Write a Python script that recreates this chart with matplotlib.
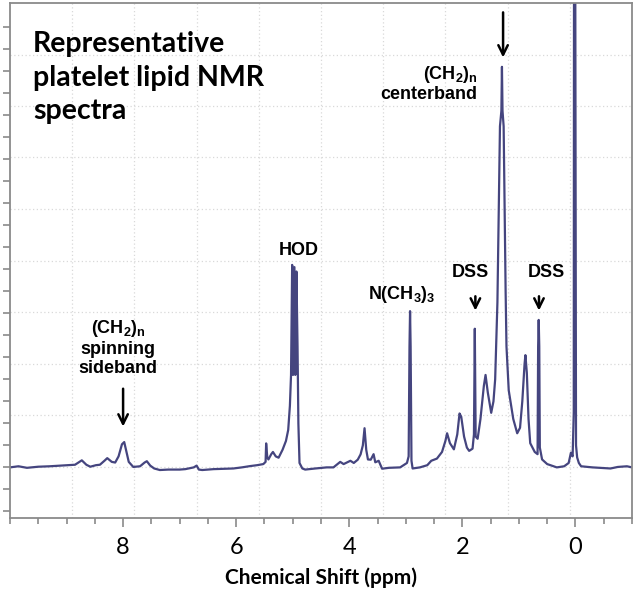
import numpy as np
import matplotlib
matplotlib.use('Agg')
import matplotlib.pyplot as plt
from matplotlib.ticker import MultipleLocator

plt.rcParams['mathtext.fontset'] = 'custom'
plt.rcParams['mathtext.rm'] = 'Liberation Sans:bold'
plt.rcParams['mathtext.bf'] = 'Liberation Sans:bold'
plt.rcParams['mathtext.default'] = 'bf'

# traced spectrum (ppm, intensity in tick units)
ppm = [10.0, 9.85, 9.7, 9.5, 9.3, 9.1, 9.0, 8.85, 8.73, 8.65, 8.58, 8.48, 8.41,
       8.33, 8.28, 8.2, 8.14, 8.08, 8.02, 7.98, 7.94, 7.9, 7.82, 7.7, 7.62, 7.58,
       7.52, 7.45, 7.35, 7.2, 7.0, 6.9, 6.75, 6.7, 6.66, 6.6, 6.4, 6.2, 6.05, 5.9,
       5.75, 5.63, 5.52, 5.48, 5.47, 5.45, 5.43, 5.38, 5.35, 5.3, 5.25, 5.18, 5.12,
       5.08, 5.05, 5.03, 5.01, 4.995, 4.97, 4.955, 4.935, 4.915, 4.9, 4.88, 4.83,
       4.78, 4.6, 4.4, 4.28, 4.16, 4.1, 3.98, 3.92, 3.85, 3.8, 3.76, 3.73, 3.7,
       3.67, 3.62, 3.57, 3.54, 3.48, 3.42, 3.3, 3.1, 2.98, 2.95, 2.935, 2.925,
       2.915, 2.9, 2.88, 2.75, 2.62, 2.55, 2.45, 2.36, 2.3, 2.27, 2.22, 2.15, 2.09,
       2.05, 2.02, 1.97, 1.92, 1.88, 1.82, 1.795, 1.78, 1.765, 1.73, 1.68, 1.62,
       1.59, 1.55, 1.49, 1.45, 1.42, 1.38, 1.36, 1.335, 1.31, 1.3, 1.29, 1.27,
       1.25, 1.235, 1.22, 1.18, 1.1, 1.03, 0.98, 0.94, 0.9, 0.885, 0.86, 0.83,
       0.8, 0.72, 0.67, 0.66, 0.65, 0.64, 0.63, 0.59, 0.5, 0.33, 0.2, 0.12, 0.08,
       0.05, 0.03, 0.025, 0.005, -0.01, -0.03, -0.06, -0.1, -0.3, -0.5, -0.62,
       -0.75, -0.91, -1.0]
intensity = [0.0, 0.05, -0.02, 0.03, 0.05, 0.08, 0.1, 0.12, 0.32, 0.12, 0.03, 0.1,
             0.12, 0.3, 0.42, 0.25, 0.22, 0.5, 1.05, 1.15, 0.7, 0.25, 0.02, 0.05,
             0.22, 0.28, 0.08, -0.05, -0.12, -0.1, -0.1, -0.08, 0.0, 0.08, -0.1,
             -0.12, -0.08, -0.06, -0.05, 0.0, 0.06, 0.1, 0.15, 0.25, 1.09, 0.45,
             0.36, 0.6, 0.7, 0.5, 0.44, 0.8, 1.2, 1.7, 2.8, 4.2, 9.2, 4.2, 9.1, 4.2,
             8.9, 5.5, 2.0, 0.2, -0.05, -0.1, -0.05, 0.0, 0.0, 0.25, 0.15, 0.3, 0.2,
             0.35, 0.59, 1.0, 1.78, 0.8, 0.36, 0.35, 0.6, 0.23, 0.3, -0.06, -0.02,
             0.0, 0.2, 0.5, 5.5, 7.1, 5.5, 0.3, -0.05, 0.0, 0.1, 0.3, 0.4, 0.7, 1.2,
             1.55, 1.1, 0.82, 1.5, 2.45, 2.3, 1.4, 0.9, 0.75, 0.85, 1.5, 6.3, 1.4,
             1.3, 2.2, 3.7, 4.2, 3.4, 2.48, 3.0, 4.0, 7.5, 11.0, 15.5, 16.2, 18.2,
             16.2, 15.5, 11.0, 8.0, 5.5, 3.5, 2.2, 1.55, 1.8, 3.0, 4.7, 5.1, 4.3,
             2.2, 1.1, 0.7, 0.6, 5.5, 6.7, 5.5, 0.9, 0.36, 0.15, 0.0, 0.05, 0.2,
             0.67, 0.5, 2.5, 25.0, 25.0, 1.0, 0.45, 0.2, 0.05, 0.0, -0.03, -0.05,
             0.02, 0.05, 0.0]

labelled_ticks = [8, 6, 4, 2, 0]

fig = plt.figure(figsize=(6.37, 5.90), dpi=100)
rect = [10 / 637, 1 - 518 / 590, 622 / 637, 515 / 590]

# faint dotted background grid (10 x 10 over the frame)
gax = fig.add_axes(rect, zorder=0)
gax.set_xlim(0, 1)
gax.set_ylim(0, 1)
gax.set_xticks(np.arange(0.1, 1.0, 0.1))
gax.set_yticks(np.arange(0.1, 1.0, 0.1))
gax.grid(True, color='#d9d9d9', lw=0.9, ls=(0, (1, 2)))
gax.tick_params(length=0, labelbottom=False, labelleft=False)
for s in gax.spines.values():
    s.set_visible(False)

ax = fig.add_axes(rect, zorder=1)
ax.patch.set_alpha(0)
ax.plot(ppm, intensity, color='#45457f', lw=1.6, solid_joinstyle='round')

ax.set_xlim(10, -1)
ax.set_ylim(-2.3, 21.1)
ax.set_xticks(labelled_ticks)
ax.xaxis.set_minor_locator(MultipleLocator(0.5))
ax.set_yticks(np.arange(-2, 21))
ax.set_yticklabels([])
for s in ax.spines.values():
    s.set_color('#8a8a8a')
    s.set_linewidth(1.3)
ax.tick_params(axis='x', which='major', direction='out', length=6.5, width=1.2,
               color='#8a8a8a', pad=7, labelsize=17)
ax.tick_params(axis='x', which='minor', direction='out', length=4.5, width=1.2,
               color='#8a8a8a')
ax.tick_params(axis='y', direction='out', length=5, width=1.2, color='#8a8a8a')
for lab in ax.get_xticklabels():
    lab.set_fontfamily('Lato')
ax.set_xlabel('Chemical Shift (ppm)', fontfamily='Lato', fontweight='bold',
              fontsize=15, labelpad=7)

ax.text(0.037, 0.945, 'Representative\nplatelet lipid NMR\nspectra',
        transform=ax.transAxes, ha='left', va='top', fontfamily='Lato',
        fontweight='bold', fontsize=20.5, linespacing=1.35)

lab_kw = dict(fontfamily='Liberation Sans', fontweight='bold', fontsize=13)
arr = dict(arrowstyle='->', lw=1.8, color='black', mutation_scale=17)

ax.text(4.9, 9.86, 'HOD', ha='center', va='center', **lab_kw)
ax.text(3.08, 7.86, r'N(CH$_3$)$_3$', ha='center', va='center', **lab_kw)

ax.text(1.86, 8.86, 'DSS', ha='center', va='center', **lab_kw)
ax.annotate('', xy=(1.77, 7.0), xytext=(1.77, 7.9), arrowprops=arr)
ax.text(0.52, 8.86, 'DSS', ha='center', va='center', **lab_kw)
ax.annotate('', xy=(0.645, 7.0), xytext=(0.645, 7.9), arrowprops=arr)

ax.text(1.73, 17.45, '(CH$_2$)$_n$\ncenterband', ha='right', va='center',
        multialignment='right', linespacing=1.1, **lab_kw)
ax.annotate('', xy=(1.28, 18.5), xytext=(1.28, 20.8), arrowprops=arr)

ax.text(8.09, 5.45, '(CH$_2$)$_n$\nspinning\nsideband', ha='center',
        va='center', multialignment='center', linespacing=1.15, **lab_kw)
ax.annotate('', xy=(8.0, 1.73), xytext=(8.0, 3.7), arrowprops=arr)

fig.savefig('out.png', dpi=100)
